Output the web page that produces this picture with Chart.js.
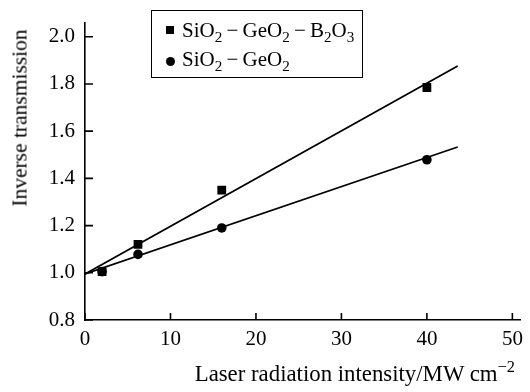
<!DOCTYPE html>
<html>
<head>
<meta charset="utf-8">
<script src="https://cdn.jsdelivr.net/npm/chart.js@4"></script>
<style>
    body { margin: 0; background: #fff; }
    #wrap { position: relative; width: 530px; height: 392px; font-family: 'Liberation Serif', 'Times New Roman', serif; color: #000; }
    #legend { position: absolute; left: 151px; top: 10px; width: 210px; height: 66px; border: 1.5px solid #000; font-size: 21px; }
    .row { position: absolute; left: 0; height: 24px; line-height: 24px; white-space: nowrap; }
    .mk { position: absolute; background: #000; }
    .txt { position: absolute; left: 30px; }
    sub { font-size: 0.72em; vertical-align: -0.3em; line-height: 0; }
    sup { font-size: 0.72em; vertical-align: 0.55em; line-height: 0; }
    #xtitle { position: absolute; right: 15px; top: 361px; font-size: 22.8px; white-space: nowrap; }
    #ytitle { position: absolute; left: 20px; top: 118px; font-size: 21.5px; white-space: nowrap; transform: translate(-50%, -50%) rotate(-90deg); }
</style>
</head>
<body>
<div id="wrap">
    <canvas id="chart" width="530" height="392"></canvas>
    <div id="legend">
        <div class="row" style="top: 7px;">
            <span class="mk" style="left: 14px; top: 8px; width: 8px; height: 8px;"></span>
            <span class="txt">SiO<sub>2</sub>&#8201;&#8722;&#8201;GeO<sub>2</sub>&#8201;&#8722;&#8201;B<sub>2</sub>O<sub>3</sub></span>
        </div>
        <div class="row" style="top: 36px;">
            <span class="mk" style="left: 14px; top: 10px; width: 9px; height: 9px; border-radius: 50%;"></span>
            <span class="txt">SiO<sub>2</sub>&#8201;&#8722;&#8201;GeO<sub>2</sub></span>
        </div>
    </div>
    <div id="xtitle">Laser radiation intensity/MW cm<sup>&#8722;2</sup></div>
    <div id="ytitle">Inverse transmission</div>
</div>
<script>
// Chart data
const xTicks = [0, 10, 20, 30, 40, 50];
const yTicks = [0.8, 1.0, 1.2, 1.4, 1.6, 1.8, 2.0];
const intensity = [2, 6.2, 16, 40];
const squareVals = [1.005, 1.12, 1.35, 1.785];
const circleVals = [1.005, 1.078, 1.19, 1.479];
const fitX = [0, 43.6];
const fitSquare = [0.995, 1.876];
const fitCircle = [0.995, 1.533];

function toPoints(xs, ys) {
    return xs.map((x, i) => ({ x: x, y: ys[i] }));
}

// draws short tick marks pointing into the plot
const innerTicks = {
    id: 'innerTicks',
    afterDatasetsDraw(chart) {
        const ctx = chart.ctx;
        const area = chart.chartArea;
        const xs = chart.scales.x;
        const ys = chart.scales.y;
        ctx.save();
        ctx.strokeStyle = '#000';
        ctx.lineWidth = 1.6;
        ctx.beginPath();
        xTicks.forEach(v => {
            const px = xs.getPixelForValue(v);
            ctx.moveTo(px, area.bottom);
            ctx.lineTo(px, area.bottom - 7);
        });
        yTicks.forEach(v => {
            const py = ys.getPixelForValue(v);
            ctx.moveTo(area.left, py);
            ctx.lineTo(area.left + 8, py);
        });
        ctx.stroke();
        ctx.restore();
    }
};

const serif = '"Liberation Serif", "Times New Roman", serif';
Chart.defaults.font.family = serif;
const tickFont = { family: serif, size: 21 };

function drawChart() {
    new Chart(document.getElementById('chart').getContext('2d'), {
        type: 'scatter',
        data: {
            datasets: [
                {
                    label: 'fit1',
                    data: toPoints(fitX, fitSquare),
                    showLine: true,
                    borderColor: '#000',
                    borderWidth: 1.8,
                    pointRadius: 0
                },
                {
                    label: 'fit2',
                    data: toPoints(fitX, fitCircle),
                    showLine: true,
                    borderColor: '#000',
                    borderWidth: 1.8,
                    pointRadius: 0
                },
                {
                    label: 'SiO2-GeO2',
                    data: toPoints(intensity, circleVals),
                    pointStyle: 'circle',
                    pointRadius: 4.8,
                    pointBorderWidth: 0,
                    backgroundColor: '#000',
                    borderColor: '#000'
                },
                {
                    label: 'SiO2-GeO2-B2O3',
                    data: toPoints(intensity, squareVals),
                    pointStyle: 'rect',
                    pointRadius: 6.2,
                    pointBorderWidth: 0,
                    backgroundColor: '#000',
                    borderColor: '#000'
                }
            ]
        },
        options: {
            responsive: false,
            animation: false,
            layout: { padding: { top: 8, right: 3, left: 0, bottom: 0 } },
            plugins: {
                legend: { display: false },
                tooltip: { enabled: false }
            },
            scales: {
                x: {
                    type: 'linear',
                    min: 0,
                    max: 51,
                    afterBuildTicks: scale => { scale.ticks = xTicks.map(v => ({ value: v })); },
                    afterFit: scale => { scale.height = 72; },
                    grid: { display: false, drawTicks: false },
                    border: { display: true, color: '#000', width: 1.6 },
                    ticks: { color: '#000', font: tickFont, padding: 7, maxRotation: 0 }
                },
                y: {
                    min: 0.8,
                    max: 2.06,
                    afterBuildTicks: scale => { scale.ticks = yTicks.map(v => ({ value: v })); },
                    afterFit: scale => { scale.width = 85; },
                    grid: { display: false, drawTicks: false },
                    border: { display: true, color: '#000', width: 1.6 },
                    ticks: { color: '#000', font: tickFont, padding: 10, callback: v => v.toFixed(1) }
                }
            }
        },
        plugins: [innerTicks]
    });
}

document.fonts.load('21px "Liberation Serif"').then(drawChart, drawChart);
</script>
</body>
</html>
